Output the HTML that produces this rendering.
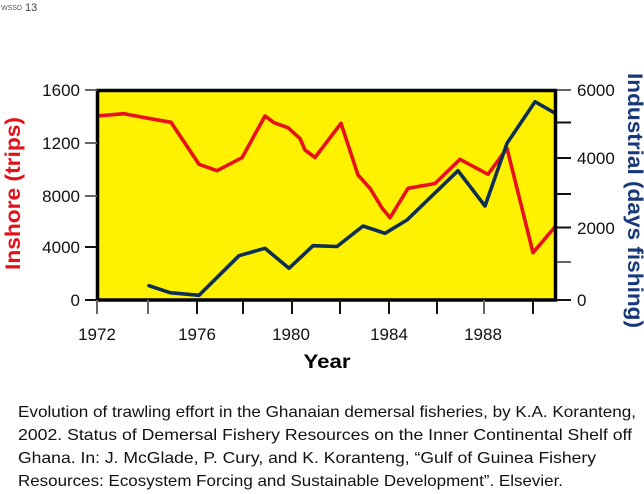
<!DOCTYPE html>
<html><head><meta charset="utf-8"><style>
html,body{margin:0;padding:0;background:#fff;}
svg{display:block;}
text{font-family:"Liberation Sans",Arial,sans-serif;}
</style></head><body>
<svg width="644" height="494" viewBox="0 0 644 494" xmlns="http://www.w3.org/2000/svg">
<rect width="644" height="494" fill="#fff"/>
<text x="1" y="10" font-size="7" fill="#555">WSSD</text>
<text x="25" y="11" font-size="11" fill="#444">13</text>

<!-- plot background -->
<rect x="97.5" y="90.5" width="458" height="209.5" fill="#FFF200"/>
<defs><clipPath id="c"><rect x="97.5" y="90.5" width="458" height="209.5"/></clipPath></defs>
<g clip-path="url(#c)" fill="none" stroke-width="3.6" stroke-linejoin="round" stroke-linecap="round">
<polyline stroke="#E8101A" points="97,116 124,113.7 145,117.7 171,122.3 199,164.3 217,170.7 242,157.7 265,116 274,122.7 288,127.7 300,138.5 305,150 315,157.5 341,123.3 358,175 370,188.3 382,208 390,217.7 408,188.3 435,183.5 460,159.3 488,174.3 507,148.3 533,252.7 560,221"/>
<polyline stroke="#0E2E52" points="149,285.7 170,292.7 199,295.3 239,255.7 265,248.3 289,268.3 313,245.7 337,246.5 363,226 385,233.3 407,220 458,170.7 485,206 507,143.3 535,101.7 560,116"/>
</g>
<rect x="97.5" y="90.5" width="458" height="209.5" fill="none" stroke="#000" stroke-width="3.5"/>

<!-- left ticks -->
<g stroke-width="2">
<line x1="85" y1="90" x2="97" y2="90" stroke="#666"/>
<line x1="85" y1="143" x2="97" y2="143" stroke="#666"/>
<line x1="85" y1="196" x2="97" y2="196" stroke="#666"/>
<line x1="85" y1="247" x2="97" y2="247" stroke="#111"/>
<line x1="85" y1="300" x2="97" y2="300" stroke="#111"/>
<!-- right ticks -->
<line x1="557" y1="90" x2="571" y2="90" stroke="#666"/>
<line x1="557" y1="122.5" x2="571" y2="122.5" stroke="#111"/>
<line x1="557" y1="158" x2="571" y2="158" stroke="#111"/>
<line x1="557" y1="194" x2="571" y2="194" stroke="#111"/>
<line x1="557" y1="227.5" x2="571" y2="227.5" stroke="#111"/>
<line x1="557" y1="262" x2="571" y2="262" stroke="#666"/>
<line x1="557" y1="300" x2="571" y2="300" stroke="#111"/>
<!-- bottom ticks -->
<line x1="97" y1="300" x2="97" y2="314" stroke="#666"/>
<line x1="148" y1="300" x2="148" y2="314" stroke="#666"/>
<line x1="197" y1="300" x2="197" y2="314" stroke="#111"/>
<line x1="243" y1="300" x2="243" y2="314" stroke="#111"/>
<line x1="292" y1="300" x2="292" y2="314" stroke="#111"/>
<line x1="340" y1="300" x2="340" y2="314" stroke="#111"/>
<line x1="389" y1="300" x2="389" y2="314" stroke="#111"/>
<line x1="437" y1="300" x2="437" y2="314" stroke="#111"/>
<line x1="484" y1="300" x2="484" y2="314" stroke="#666"/>
<line x1="533" y1="300" x2="533" y2="314" stroke="#111"/>
</g>

<g font-size="17" fill="#111">
<text x="80" y="96" text-anchor="end">1600</text>
<text x="80" y="149" text-anchor="end">1200</text>
<text x="80" y="202" text-anchor="end">8000</text>
<text x="80" y="253" text-anchor="end">4000</text>
<text x="80" y="306" text-anchor="end">0</text>

<text x="577" y="96">6000</text>
<text x="577" y="164">4000</text>
<text x="577" y="234">2000</text>
<text x="577" y="306">0</text>

<text x="97" y="340" text-anchor="middle">1972</text>
<text x="197" y="340" text-anchor="middle">1976</text>
<text x="291" y="340" text-anchor="middle">1980</text>
<text x="389" y="340" text-anchor="middle">1984</text>
<text x="483" y="340" text-anchor="middle">1988</text>
</g>

<text x="327" y="368" text-anchor="middle" font-size="19" font-weight="bold" fill="#000" textLength="47" lengthAdjust="spacingAndGlyphs">Year</text>

<text transform="translate(20,193.5) rotate(-90)" text-anchor="middle" font-size="21" font-weight="bold" fill="#E3101A" textLength="153" lengthAdjust="spacingAndGlyphs">Inshore (trips)</text>
<text transform="translate(628,200.5) rotate(90)" text-anchor="middle" font-size="21" font-weight="bold" fill="#17387A" textLength="255" lengthAdjust="spacingAndGlyphs">Industrial (days fishing)</text>

<g font-size="16" fill="#111">
<text x="18" y="417" textLength="618" lengthAdjust="spacingAndGlyphs">Evolution of trawling effort in the Ghanaian demersal fisheries, by K.A. Koranteng,</text>
<text x="18" y="440" textLength="614" lengthAdjust="spacingAndGlyphs">2002. Status of Demersal Fishery Resources on the Inner Continental Shelf off</text>
<text x="18" y="463" textLength="578" lengthAdjust="spacingAndGlyphs">Ghana. In: J. McGlade, P. Cury, and K. Koranteng, “Gulf of Guinea Fishery</text>
<text x="18" y="486" textLength="545" lengthAdjust="spacingAndGlyphs">Resources: Ecosystem Forcing and Sustainable Development”. Elsevier.</text>
</g>
</svg>
</body></html>
